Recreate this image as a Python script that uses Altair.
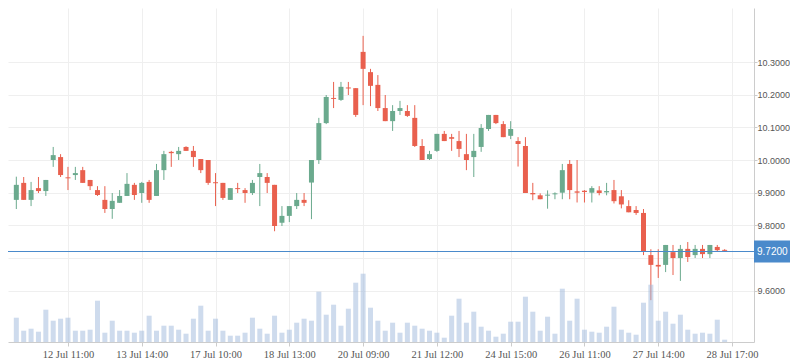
import altair as alt
import pandas as pd

# ---- data ----
OPEN = [9.878, 9.930, 9.878, 9.914, 9.905, 10.000, 10.009, 9.947, 9.954, 9.969,
        9.939, 9.908, 9.878, 9.850, 9.869, 9.890, 9.924, 9.899, 9.933, 9.890,
        9.969, 10.025, 10.018, 10.040, 10.028, 10.003, 10.000, 9.932, 9.930, 9.878,
        9.914, 9.908, 9.899, 9.948, 9.948, 9.924, 9.808, 9.829, 9.859, 9.878,
        9.931, 10.000, 10.113, 10.190, 10.184, 10.222, 10.220, 10.331, 10.269, 10.230,
        10.159, 10.119, 10.150, 10.150, 10.129, 10.043, 10.003, 10.028, 10.080, 10.070,
        10.058, 10.018, 10.009, 10.040, 10.095, 10.138, 10.110, 10.074, 10.058, 10.043,
        9.899, 9.892, 9.891, 9.895, 9.900, 9.988, 9.904, 9.906, 9.900, 9.907,
        9.901, 9.908, 9.889, 9.859, 9.847, 9.838, 9.709, 9.679, 9.679, 9.718,
        9.700, 9.728, 9.709, 9.728, 9.712, 9.734, 9.725]
HIGH = [9.949, 9.948, 9.933, 9.948, 9.939, 10.040, 10.018, 9.979, 9.979, 9.979,
        9.939, 9.920, 9.920, 9.899, 9.908, 9.960, 9.930, 9.933, 9.939, 9.988,
        10.028, 10.028, 10.040, 10.042, 10.043, 10.003, 10.000, 9.960, 9.930, 9.914,
        9.930, 9.914, 9.939, 9.988, 9.960, 9.924, 9.859, 9.859, 9.899, 9.899,
        10.000, 10.129, 10.199, 10.239, 10.239, 10.239, 10.220, 10.380, 10.279, 10.260,
        10.199, 10.168, 10.181, 10.168, 10.168, 10.064, 10.028, 10.080, 10.089, 10.080,
        10.089, 10.080, 10.080, 10.110, 10.138, 10.138, 10.119, 10.119, 10.070, 10.070,
        9.930, 9.898, 9.907, 9.901, 9.988, 10.000, 10.000, 9.908, 9.920, 9.920,
        9.930, 9.939, 9.908, 9.877, 9.859, 9.850, 9.727, 9.727, 9.740, 9.740,
        9.740, 9.749, 9.740, 9.740, 9.740, 9.740, 9.727]
LOW = [9.850, 9.878, 9.859, 9.899, 9.890, 9.979, 9.948, 9.908, 9.939, 9.930,
       9.908, 9.890, 9.838, 9.820, 9.869, 9.890, 9.878, 9.869, 9.869, 9.890,
       9.939, 9.979, 10.000, 10.028, 9.979, 9.960, 9.924, 9.859, 9.878, 9.878,
       9.899, 9.869, 9.893, 9.859, 9.899, 9.782, 9.798, 9.810, 9.850, 9.859,
       9.819, 9.988, 10.110, 10.159, 10.181, 10.199, 10.132, 10.168, 10.165, 10.150,
       10.119, 10.089, 10.138, 10.132, 10.040, 10.000, 10.000, 10.025, 10.058, 10.028,
       10.009, 9.969, 9.948, 10.025, 10.089, 10.110, 10.070, 10.064, 9.980, 9.899,
       9.877, 9.880, 9.851, 9.880, 9.880, 9.880, 9.870, 9.870, 9.870, 9.892,
       9.892, 9.867, 9.852, 9.840, 9.832, 9.709, 9.571, 9.639, 9.657, 9.648,
       9.630, 9.688, 9.700, 9.700, 9.700, 9.721, 9.721]
CLOSE = [9.924, 9.878, 9.908, 9.905, 9.939, 10.015, 9.954, 9.944, 9.960, 9.930,
         9.920, 9.893, 9.850, 9.875, 9.890, 9.927, 9.893, 9.930, 9.878, 9.969,
         10.018, 10.021, 10.028, 10.028, 10.009, 9.969, 9.930, 9.929, 9.884, 9.914,
         9.911, 9.899, 9.930, 9.960, 9.930, 9.798, 9.829, 9.859, 9.878, 9.869,
         10.000, 10.113, 10.193, 10.187, 10.224, 10.219, 10.138, 10.279, 10.227, 10.159,
         10.119, 10.150, 10.159, 10.135, 10.043, 10.000, 10.018, 10.080, 10.058, 10.065,
         10.034, 10.000, 10.028, 10.098, 10.138, 10.113, 10.070, 10.095, 10.049, 9.899,
         9.895, 9.880, 9.894, 9.898, 9.969, 9.908, 9.900, 9.902, 9.914, 9.899,
         9.905, 9.874, 9.864, 9.840, 9.838, 9.721, 9.679, 9.674, 9.740, 9.700,
         9.728, 9.703, 9.728, 9.712, 9.740, 9.724, 9.722]
VOLUME = [24.3, 11.3, 13.3, 10.3, 32.3, 21.3, 23.3, 24.3, 11.3, 11.3,
          12.3, 41.3, 9.3, 21.3, 11.3, 11.3, 9.3, 11.3, 26.3, 11.3,
          16.3, 16.3, 12.3, 8.3, 23.3, 36.3, 11.3, 23.3, 11.3, 6.3,
          6.3, 9.3, 24.3, 13.3, 8.3, 26.3, 9.3, 12.3, 19.3, 23.3,
          21.3, 50.3, 27.3, 37.3, 16.3, 33.3, 59.3, 68.3, 34.3, 21.3,
          11.3, 19.3, 9.3, 19.3, 16.3, 13.3, 11.3, 9.3, 4.3, 26.3,
          43.3, 19.3, 30.3, 15.3, 11.3, 5.3, 8.3, 20.3, 20.3, 45.3,
          30.3, 11.3, 25.3, 8.3, 53.3, 21.3, 43.3, 12.3, 10.3, 9.3,
          15.3, 35.3, 12.3, 9.3, 7.3, 39.3, 57.3, 21.3, 30.3, 18.3,
          27.3, 12.3, 8.3, 9.3, 8.3, 22.3, 2.3]
TICK_LABELS = ["12 Jul 11:00", "13 Jul 14:00", "17 Jul 10:00", "18 Jul 13:00",
               "20 Jul 09:00", "21 Jul 12:00", "24 Jul 15:00", "26 Jul 11:00",
               "27 Jul 14:00", "28 Jul 17:00"]
TICK_IDX = [7, 17, 27, 37, 47, 57, 67, 77, 87, 97]
Y_TICKS = [9.6, 9.7, 9.8, 9.9, 10.0, 10.1, 10.2, 10.3]
LAST_PRICE = 9.72

GREEN = "#6BAA8E"
RED = "#E9604E"
BLUE = "#4A8ACB"

df = pd.DataFrame({
    "i": list(range(len(OPEN))),
    "open": OPEN, "high": HIGH, "low": LOW, "close": CLOSE, "volume": VOLUME,
})
df["dir"] = ["up" if c >= o else "down" for o, c in zip(OPEN, CLOSE)]

W, H = 746, 334
RIGHT = 36
xscale = alt.Scale(domain=[-0.45, 99.3], nice=False, zero=False)
yscale = alt.Scale(domain=[9.443, 10.4653], nice=False, zero=False)
color = alt.Color("dir:N", scale=alt.Scale(domain=["up", "down"], range=[GREEN, RED]), legend=None)

label_arr = "[" + ",".join("'%s'" % s for s in TICK_LABELS) + "]"
xaxis = alt.Axis(values=TICK_IDX, labelExpr=label_arr + "[round((datum.value-7)/10)]",
                 grid=True, gridColor="#efefef", domainColor="#cccccc", tickColor="#cccccc",
                 tickSize=4, labelFont="Liberation Serif", labelFontSize=10.5,
                 labelColor="#555555", labelPadding=3, labelFlush=False, title=None)
yaxis = alt.Axis(orient="right", values=Y_TICKS,
                 labelExpr="abs(datum.value-9.7)<0.01 ? '' : format(datum.value, '.4f')",
                 grid=True, gridColor="#efefef", domainColor="#cccccc", tickColor="#cccccc",
                 tickSize=3, labelPadding=0, labelFont="Liberation Sans", labelFontSize=9,
                 labelColor="#555555", title=None)

base = alt.Chart(df)

wicks = base.mark_rule(strokeWidth=1).encode(
    x=alt.X("i:Q", scale=xscale, axis=xaxis),
    y=alt.Y("low:Q", scale=yscale, axis=yaxis),
    y2="high:Q",
    color=color,
)
bodies = base.mark_bar(width=5).encode(
    x=alt.X("i:Q", scale=xscale),
    y=alt.Y("open:Q", scale=yscale),
    y2="close:Q",
    color=color,
)
last_df = pd.DataFrame({"p": [LAST_PRICE]})
last_line = alt.Chart(last_df).mark_rule(color=BLUE, strokeWidth=1).encode(
    y=alt.Y("p:Q", scale=yscale)
)
last_box = alt.Chart(last_df).mark_rect(
    color=BLUE, yOffset=-11, y2Offset=11
).encode(
    x=alt.value(W), x2=alt.value(W + RIGHT),
    y=alt.Y("p:Q", scale=yscale), y2="p:Q",
)
last_text = alt.Chart(last_df).mark_text(
    align="left", baseline="middle", color="white", fontSize=10, font="Liberation Sans"
).encode(
    x=alt.value(W + 3),
    y=alt.Y("p:Q", scale=yscale),
    text=alt.Text("p:Q", format=".4f"),
)

price = alt.layer(wicks, bodies, last_line, last_box, last_text)

vol = base.mark_bar(width=5, color="#9DB7DC", opacity=0.5).encode(
    x=alt.X("i:Q", scale=xscale),
    y=alt.Y("volume:Q", scale=alt.Scale(domain=[0, H], nice=False), axis=None),
)

chart = alt.layer(price, vol).resolve_scale(y="independent").properties(
    width=W, height=H,
    autosize=alt.AutoSizeParams(type="none"),
    padding={"left": 0, "top": 0, "right": RIGHT, "bottom": 21},
    background="white",
).configure_view(stroke=None)

chart.save("out.html", embed_options={"renderer": "svg", "actions": False})
